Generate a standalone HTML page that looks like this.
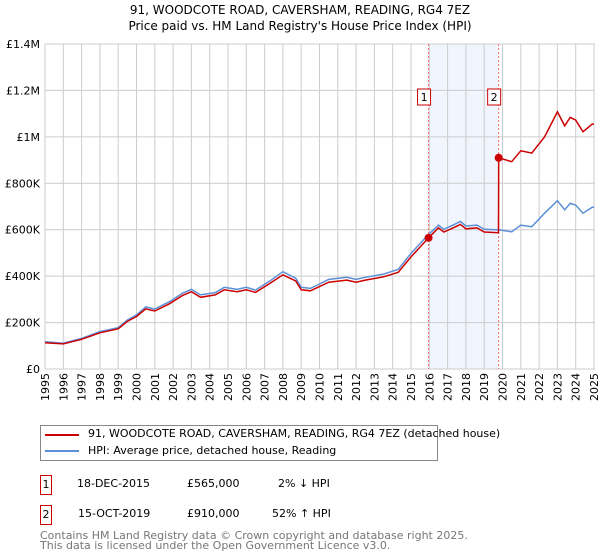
<!DOCTYPE html>
<html><head><meta charset="utf-8"><style>
body{margin:0;background:#fff;font-family:"Liberation Sans","DejaVu Sans",sans-serif;}
#wrap{position:relative;width:600px;height:560px;overflow:hidden;}
.t{position:absolute;white-space:nowrap;}
</style></head><body>
<div id="wrap">
<svg id="chart" width="600" height="420" style="position:absolute;left:0;top:0">
<text x="300" y="14" text-anchor="middle" font-size="12" font-family="DejaVu Sans,sans-serif">91, WOODCOTE ROAD, CAVERSHAM, READING, RG4 7EZ</text>
<text x="300" y="30" text-anchor="middle" font-size="12" font-family="DejaVu Sans,sans-serif">Price paid vs. HM Land Registry's House Price Index (HPI)</text>
<g id="grid"></g><g id="marks"></g><g id="axes"></g>
</svg>
<div class="t" style="left:40px;top:425px;width:396px;height:34px;border:1px solid #888;"></div>
<div class="t" style="left:45px;top:434px;width:34px;height:2px;background:#cc0000"></div>
<div class="t" style="left:88px;top:427px;font-size:11px;font-family:'DejaVu Sans',sans-serif">91, WOODCOTE ROAD, CAVERSHAM, READING, RG4 7EZ (detached house)</div>
<div class="t" style="left:45px;top:450px;width:34px;height:2px;background:#5b8fd6"></div>
<div class="t" style="left:88px;top:444px;font-size:11px;font-family:'DejaVu Sans',sans-serif">HPI: Average price, detached house, Reading</div>
<div class="t" style="left:40px;top:475px;width:10px;height:18px;border:1px solid #cc0000;font-size:11px;text-align:center;line-height:18px;font-family:'DejaVu Sans',sans-serif">1</div>
<div class="t" style="left:77px;top:477px;font-size:11px;font-family:'DejaVu Sans',sans-serif">18-DEC-2015</div>
<div class="t" style="left:187px;top:477px;font-size:11px;font-family:'DejaVu Sans',sans-serif">£565,000</div>
<div class="t" style="left:278px;top:477px;font-size:11px;font-family:'DejaVu Sans',sans-serif">2% ↓ HPI</div>
<div class="t" style="left:40px;top:505px;width:10px;height:18px;border:1px solid #cc0000;font-size:11px;text-align:center;line-height:18px;font-family:'DejaVu Sans',sans-serif">2</div>
<div class="t" style="left:78px;top:507px;font-size:11px;font-family:'DejaVu Sans',sans-serif">15-OCT-2019</div>
<div class="t" style="left:187px;top:507px;font-size:11px;font-family:'DejaVu Sans',sans-serif">£910,000</div>
<div class="t" style="left:272px;top:507px;font-size:11px;font-family:'DejaVu Sans',sans-serif">52% ↑ HPI</div>
<div class="t" style="left:40px;top:531px;font-size:11px;line-height:10px;color:#777;font-family:'DejaVu Sans',sans-serif">Contains HM Land Registry data © Crown copyright and database right 2025.<br>This data is licensed under the Open Government Licence v3.0.</div>
</div>
<script>
const yTicks=[0,200000,400000,600000,800000,1000000,1200000,1400000];
const yTickLabels=["£0","£200K","£400K","£600K","£800K","£1M","£1.2M","£1.4M"];
const years=[1995,1996,1997,1998,1999,2000,2001,2002,2003,2004,2005,2006,2007,2008,2009,2010,2011,2012,2013,2014,2015,2016,2017,2018,2019,2020,2021,2022,2023,2024,2025];
const hpiT=[1995,1996,1997,1998,1999,1999.5,2000,2000.5,2001,2001.8,2002.5,2003,2003.5,2004.3,2004.8,2005.5,2006,2006.5,2007.3,2008,2008.7,2009,2009.5,2010,2010.5,2011.5,2012,2012.5,2013.5,2014.3,2015,2015.9,2016.5,2016.8,2017.3,2017.7,2018,2018.6,2019,2019.8,2020.5,2021,2021.6,2022.3,2023,2023.4,2023.7,2024,2024.4,2024.9,2025];
const hpiV=[117000,111000,132000,161000,178000,211000,233000,267000,258000,290000,326000,343000,319000,329000,352000,343000,352000,340000,380000,419000,391000,352000,347000,366000,386000,395000,386000,395000,409000,429000,498000,575000,620000,602000,620000,636000,616000,620000,602000,599000,591000,620000,613000,671000,725000,686000,714000,706000,671000,697000,697000];
const propT=[1995,1996,1997,1998,1999,1999.5,2000,2000.5,2001,2001.8,2002.5,2003,2003.5,2004.3,2004.8,2005.5,2006,2006.5,2007.3,2008,2008.7,2009,2009.5,2010,2010.5,2011.5,2012,2012.5,2013.5,2014.3,2015,2015.96,2016.5,2016.8,2017.3,2017.7,2018,2018.6,2019,2019.78,2019.79,2020.5,2021,2021.6,2022.3,2023,2023.4,2023.7,2024,2024.4,2024.9,2025];
const propV=[113000,108000,128000,156000,173000,205000,226000,259000,250000,281000,316000,333000,309000,319000,341000,333000,341000,330000,369000,406000,379000,341000,337000,355000,374000,383000,374000,383000,397000,416000,483000,565000,608000,590000,608000,623000,604000,608000,590000,587000,910000,893000,940000,930000,1000000,1108000,1047000,1084000,1072000,1022000,1055000,1055000];
const sales=[{t:2015.96,v:565000,n:"1"},{t:2019.79,v:910000,n:"2"}];
const X=t=>45+(t-1995)*(549/30), Y=v=>369-v/1400000*325;
const NS="http://www.w3.org/2000/svg";
function mk(tag,a,parent){const e=document.createElementNS(NS,tag);for(const k in a)e.setAttribute(k,a[k]);parent.appendChild(e);return e;}
const grid=document.getElementById('grid'),marks=document.getElementById('marks'),axes=document.getElementById('axes');
const band=mk('rect',{x:X(sales[0].t),y:44,width:X(sales[1].t)-X(sales[0].t),height:325,fill:'#eef3fc',opacity:0.8},grid);

years.forEach(y=>{const l=mk('line',{x1:X(y),x2:X(y),y1:44,y2:369,stroke:'#cccccc'},grid);

const xx=X(y)+4;
const tx=mk('text',{x:xx,y:373,'text-anchor':'end','font-size':11,'font-family':'DejaVu Sans,sans-serif',transform:'rotate(-90 '+xx+' 373)'},axes);tx.textContent=y;
});
yTicks.forEach((v,i)=>{const l=mk('line',{x1:45,x2:595,y1:Y(v),y2:Y(v),stroke:'#cccccc'},grid);

const tx=mk('text',{x:40,y:Y(v)+4,'text-anchor':'end','font-size':11,'font-family':'DejaVu Sans,sans-serif'},axes);tx.textContent=yTickLabels[i];
});
sales.forEach(s=>{const l=mk('line',{x1:X(s.t),x2:X(s.t),y1:44,y2:369,stroke:'#ff6666','stroke-dasharray':'2,2'},grid);
});
function path(T,V,col,name){const d=T.map((t,i)=>(i?'L':'M')+X(t).toFixed(1)+','+Y(V[i]).toFixed(1)).join('');
const p=mk('path',{d:d,fill:'none',stroke:col,'stroke-width':1.5},marks);}
path(hpiT,hpiV,'#5b8fd6','hpi-line');
path(propT,propV,'#cc0000','property-line');
sales.forEach(s=>{const c=mk('circle',{cx:X(s.t),cy:Y(s.v),r:4,fill:'#cc0000'},marks);

const r=mk('rect',{x:X(s.t)-11,y:89,width:13,height:16,fill:'#fff',stroke:'#cc0000'},marks);

const tx=mk('text',{x:X(s.t)-4.5,y:101,'text-anchor':'middle','font-size':11,'font-family':'DejaVu Sans,sans-serif'},marks);tx.textContent=s.n;
});
</script>
</body></html>
